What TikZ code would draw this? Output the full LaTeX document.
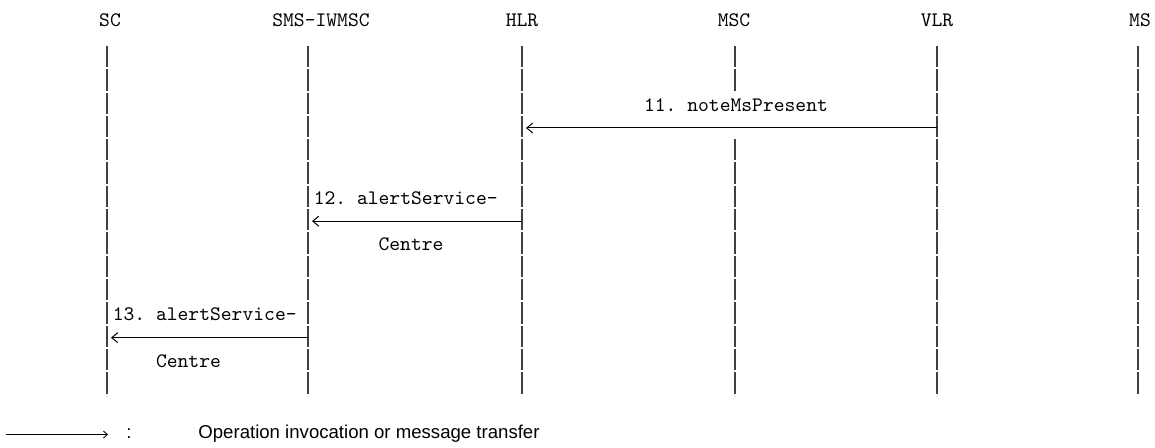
\documentclass[tikz,border=0pt]{standalone}
\usepackage{fontspec}
\setmainfont{Liberation Sans}
\usepackage{tikz}
\usetikzlibrary{arrows.meta,positioning}

\begin{document}
\frenchspacing
\begin{tikzpicture}[
    x=0.5pt, y=-0.5pt,
    entity/.style={font=\ttfamily\fontsize{10.3}{12}\selectfont, inner sep=0pt},
    note/.style={font=\fontsize{9.3}{11}\selectfont, inner sep=0pt},
    lifeline/.style={line width=0.55pt, black!75, dash pattern=on 10.65pt off 1pt},
    arrow/.style={-{Straight Barb[length=3pt,width=5pt]}, line width=0.5pt, shorten >=2pt}
]
    \useasboundingbox (0,0) rectangle (1155,448);

    \node[entity] (sc) at (110,20) {SC};
    \node[entity] (iwmsc) at (321,20) {SMS-IWMSC};
    \node[entity] (hlr) at (522,20) {HLR};
    \node[entity] (msc) at (734,20) {MSC};
    \node[entity] (vlr) at (937,20) {VLR};
    \node[entity] (ms) at (1140,20) {MS};

    \coordinate (sc-top) at (107,46);
    \coordinate (iwmsc-top) at (308,46);
    \coordinate (hlr-top) at (522,46);
    \coordinate (msc-top) at (735,46);
    \coordinate (msc-mid) at (735,139.2);
    \coordinate (vlr-top) at (937,46);
    \coordinate (ms-top) at (1138,46);

    \draw[lifeline] (sc-top) -- ++(0,349.5);
    \draw[lifeline] (iwmsc-top) -- ++(0,349.5);
    \draw[lifeline] (hlr-top) -- ++(0,349.5);
    \draw[lifeline] (msc-top) -- ++(0,45);
    \draw[lifeline] (msc-mid) -- ++(0,256.3);
    \draw[lifeline] (vlr-top) -- ++(0,349.5);
    \draw[lifeline] (ms-top) -- ++(0,349.5);

    \node[entity] (m11) at (736,104.7) {11. noteMsPresent};
    \coordinate (vlr11) at (937,128);
    \coordinate (hlr11) at (522,128);
    \draw[arrow] (vlr11) -- (hlr11);

    \node[entity, anchor=west] (m12) at (313.4,197.9) {12. alertService-};
    \coordinate (hlr12) at (522,221.2);
    \coordinate (iwmsc12) at (308,221.2);
    \draw[arrow] (hlr12) -- (iwmsc12);
    \node[entity, anchor=west] (m12b) at (378.2,244.5) {Centre};

    \node[entity, anchor=west] (m13) at (112.4,314.4) {13. alertService-};
    \coordinate (iwmsc13) at (308,337.7);
    \coordinate (sc13) at (107,337.7);
    \draw[arrow] (iwmsc13) -- (sc13);
    \node[entity, anchor=west] (m13b) at (155.6,361) {Centre};

    \coordinate (legfrom) at (6,434.5);
    \coordinate (legto) at (108,434.5);
    \draw[arrow, line width=0.4pt, shorten >=0pt, -{Straight Barb[length=2pt,width=3.5pt]}] (legfrom) -- (legto);
    \node[note, anchor=base] (colon) at (129,438.5) {:};
    \node[note, anchor=base west] (legtext) at (198,438.5) {Operation invocation or message transfer};
\end{tikzpicture}
\end{document}
